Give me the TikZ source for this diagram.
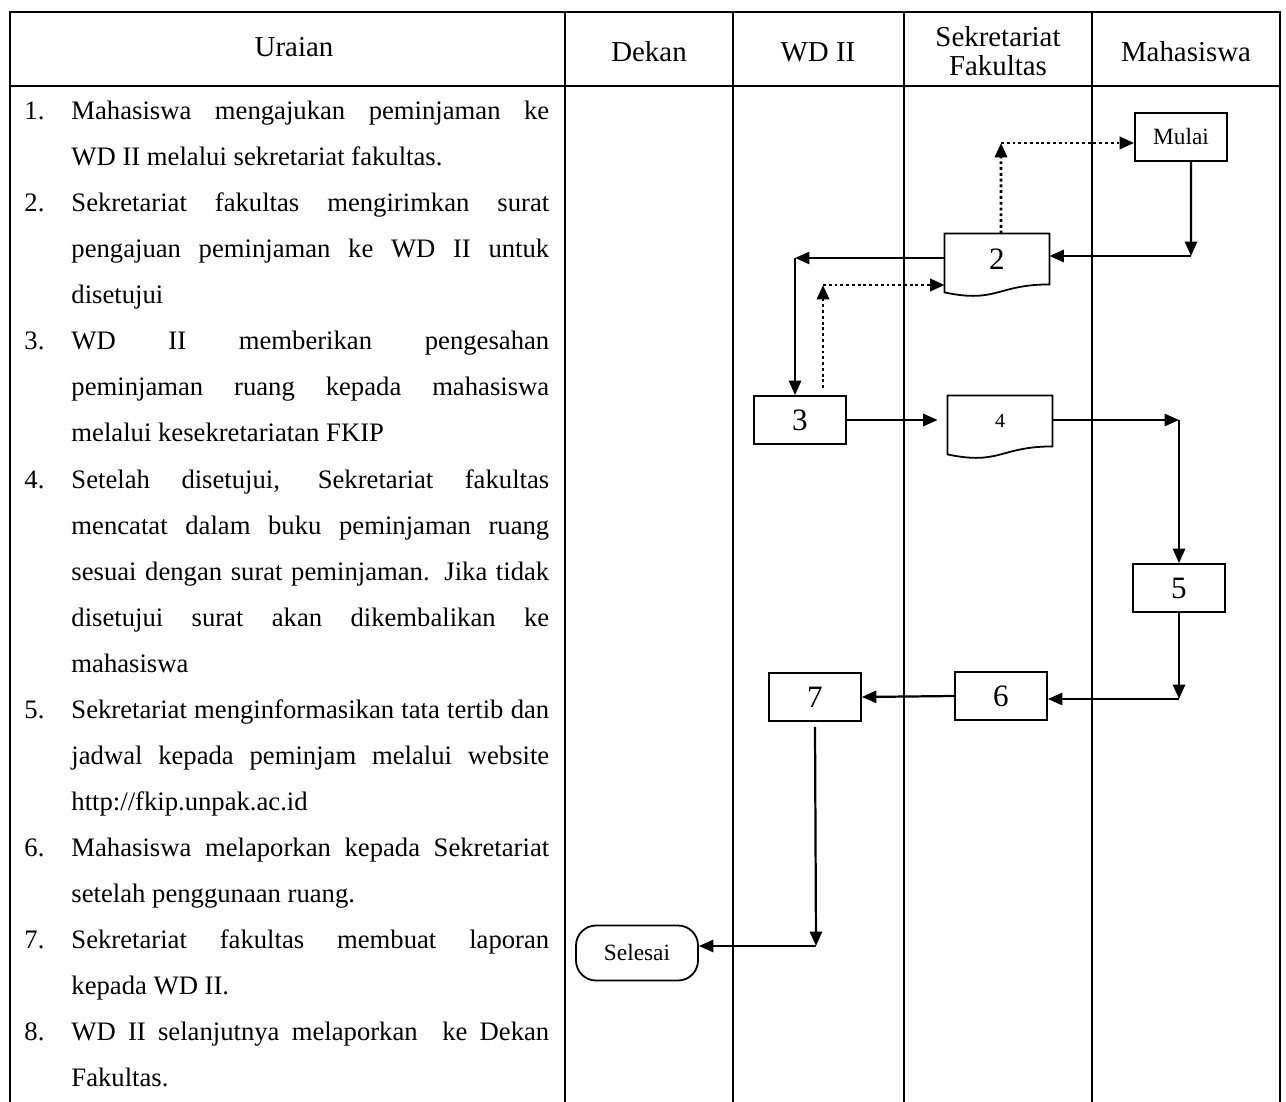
\documentclass[tikz,border=0pt]{standalone}
\usepackage{fontspec}
\setmainfont{Liberation Serif}
\usetikzlibrary{arrows.meta,calc}
\begin{document}
\begin{tikzpicture}[x=0.45pt,y=-0.45pt,
  tline/.style={line width=1.1pt},
  hdr/.style={inner sep=0pt,font=\fontsize{13}{12.8}\selectfont,align=center},
  txt/.style={anchor=base west,inner sep=0pt,font=\fontsize{12}{14}\selectfont},
  box/.style={draw,line width=0.8pt,rectangle,minimum width=41.4pt,minimum height=21.6pt,inner sep=0pt,font=\fontsize{14}{16}\selectfont},
  smallbox/.style={box,font=\fontsize{10.5}{12}\selectfont},
  doc/.style={rectangle,minimum width=46.8pt,minimum height=22.5pt,inner sep=0pt},
  docline/.style={draw,line width=0.8pt},
  term/.style={draw,line width=0.8pt,rectangle,rounded corners=9pt,minimum width=54.9pt,minimum height=24.75pt,inner sep=0pt,font=\fontsize{10.5}{12}\selectfont},
  flow/.style={line width=1pt,-{Triangle[length=6.5pt,width=5.5pt]}},
  dflow/.style={line width=1.3pt,dash pattern=on 1.3pt off 1.3pt,-{Triangle[length=6.5pt,width=5.5pt]}}
]
\fill[white] (0,0) rectangle (1286,1102);
\useasboundingbox (0,0) rectangle (1286,1102);

% table
\draw[tline] (10,1102) -- (10,12) -- (1280,12) -- (1280,1102);
\draw[tline] (10,86) -- (1280,86);
\foreach \xx in {565,733,904,1092} \draw[tline] (\xx,12) -- (\xx,1102);

% header
\node[hdr] (hU) at (294,47) {Uraian};
\node[hdr] (hD) at (649,52) {Dekan};
\node[hdr] (hW) at (818,52) {WD II};
\node[hdr] (hS) at (998,51) {Sekretariat\\Fakultas};
\node[hdr] (hM) at (1186,52) {Mahasiswa};

% numbers
\node[txt] (n1) at (24,120) {1.};
\node[txt] (n2) at (24,212) {2.};
\node[txt] (n3) at (24,350) {3.};
\node[txt] (n4) at (24,488) {4.};
\node[txt] (n5) at (24,718) {5.};
\node[txt] (n6) at (24,856) {6.};
\node[txt] (n7) at (24,948) {7.};
\node[txt] (n8) at (24,1040) {8.};

% text lines
\node[txt] (l1) at (71,120) {\makebox[215pt][s]{Mahasiswa mengajukan peminjaman ke}};
\node[txt] (l2) at (71,166) {WD II melalui sekretariat fakultas.};
\node[txt] (l3) at (71,212) {\makebox[215pt][s]{Sekretariat fakultas mengirimkan surat}};
\node[txt] (l4) at (71,258) {\makebox[215pt][s]{pengajuan peminjaman ke WD II untuk}};
\node[txt] (l5) at (71,304) {disetujui};
\node[txt] (l6) at (71,350) {\makebox[215pt][s]{WD II memberikan pengesahan}};
\node[txt] (l7) at (71,396) {\makebox[215pt][s]{peminjaman ruang kepada mahasiswa}};
\node[txt] (l8) at (71,442) {melalui kesekretariatan FKIP};
\node[txt] (l9) at (71,488) {\makebox[215pt][s]{Setelah disetujui, Sekretariat fakultas}};
\node[txt] (l10) at (71,534) {\makebox[215pt][s]{mencatat dalam buku peminjaman ruang}};
\node[txt] (l11) at (71,580) {\makebox[215pt][s]{sesuai dengan surat peminjaman. Jika tidak}};
\node[txt] (l12) at (71,626) {\makebox[215pt][s]{disetujui surat akan dikembalikan ke}};
\node[txt] (l13) at (71,672) {mahasiswa};
\node[txt] (l14) at (71,718) {\makebox[215pt][s]{Sekretariat menginformasikan tata tertib dan}};
\node[txt] (l15) at (71,764) {\makebox[215pt][s]{jadwal kepada peminjam melalui website}};
\node[txt] (l16) at (71,810) {http://fkip.unpak.ac.id};
\node[txt] (l17) at (71,856) {\makebox[215pt][s]{Mahasiswa melaporkan kepada Sekretariat}};
\node[txt] (l18) at (71,902) {setelah penggunaan ruang.};
\node[txt] (l19) at (71,948) {\makebox[215pt][s]{Sekretariat fakultas membuat laporan}};
\node[txt] (l20) at (71,994) {kepada WD II.};
\node[txt] (l21) at (71,1040) {\makebox[215pt][s]{WD II selanjutnya melaporkan\ \ ke Dekan}};
\node[txt] (l22) at (71,1086) {Fakultas.};

% flow nodes
\node[smallbox] (mulai) at (1181,137) {Mulai};
\node[doc,font=\fontsize{14}{16}\selectfont] (d2) at (997,259) {2};
\node[box] (b3) at (800,420) {3};
\node[doc,font=\fontsize{9}{11}\selectfont] (d4) at (1000,421) {4};
\node[box] (b5) at (1179,588) {5};
\node[box] (b6) at (1001,696) {6};
\node[box] (b7) at (815,697) {7};
\node[term] (sel) at (637,953) {Selesai};

\foreach \d in {d2,d4}
  \draw[docline] (\d.north west) -- (\d.north east) -- (\d.south east)
    .. controls (\d.south) and ($(\d.south)+(0,19)$) .. ($(\d.south west)+(0,8)$) -- cycle;

% connectors
\coordinate (c1) at (1191,256);
\draw[flow] ([xshift=4.5pt]mulai.south) -- (c1);
\draw[flow] (c1) -- (c1 -| d2.east);

\coordinate (c2) at (1001,143);
\draw[dflow] ([xshift=1.8pt]d2.north) -- (c2);
\draw[dflow] (c2) -- (c2 -| mulai.west);

\coordinate (c3) at (795,258);
\draw[flow] (d2.west |- c3) -- (c3);
\draw[flow] (c3) -- (c3 |- b3.north);

\coordinate (c4) at (823,285);
\draw[dflow] ($(c4 |- b3.north)+(0,-7)$) -- (c4);
\draw[dflow] (c4) -- (c4 -| d2.west);

\draw[flow,shorten >=4.5pt] (b3.east) -- (b3.east -| d4.west);

\coordinate (c6) at (1179,420);
\draw[flow] (d4.east |- c6) -- (c6);
\draw[flow] (c6) -- (b5.north);

\coordinate (c7) at (1179,699);
\draw[flow] (b5.south) -- (c7);
\draw[flow] (c7) -- (c7 -| b6.east);

\draw[flow] (b6.west) -- (b7.east);

\coordinate (c9) at (816,946);
\draw[flow] ($(b7.south)+(0,5)$) -- (c9);
\draw[flow] (c9) -- (c9 -| sel.east);
\end{tikzpicture}
\end{document}
